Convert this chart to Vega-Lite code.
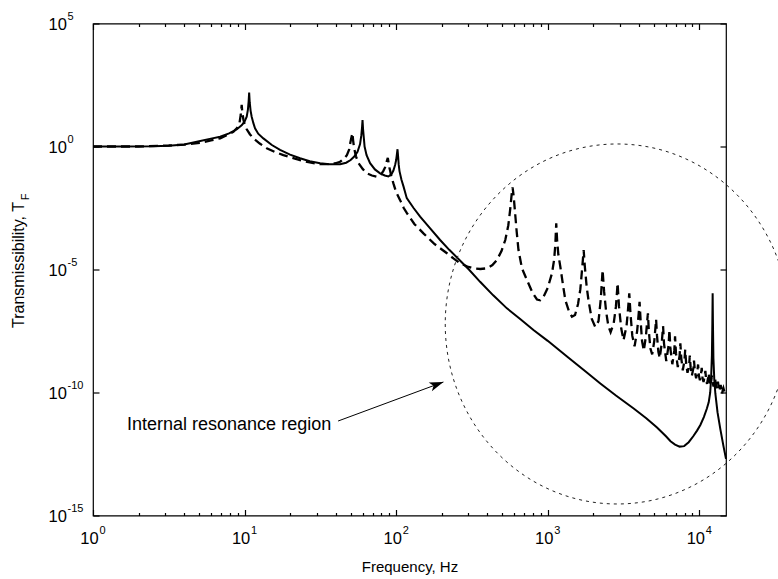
{
  "$schema": "https://vega.github.io/schema/vega-lite/v6.json",
  "width": 633,
  "height": 492,
  "autosize": {"type": "none"},
  "padding": {"left": 93, "top": 23.5, "right": 52, "bottom": 63.5},
  "background": "white",
  "config": {
    "view": {"stroke": "black", "strokeWidth": 1.2},
    "font": "Liberation Sans",
    "axis": {"domain": false, "grid": false, "labelColor": "black", "tickColor": "black", "tickWidth": 1.2, "titleColor": "black", "titleFontWeight": "normal", "labelFont": "Liberation Sans", "titleFont": "Liberation Sans", "labelFlush": false, "labelOverlap": false, "labelBound": false}
  },
  "datasets": {
    "solid": [
      {"f":1,"T":1},{"f":1.6,"T":1},{"f":2.5,"T":1.023},{"f":3.16,"T":1.072},{"f":4,"T":1.202},{"f":5.1,"T":1.66},{"f":6,"T":2.09},{"f":6.9,"T":2.51},{"f":7.9,"T":3.39},{"f":8.9,"T":5.01},{"f":9.6,"T":7.41},{"f":10,"T":10.5},{"f":10.33,"T":16.2},{"f":10.52,"T":31.6},{"f":10.64,"T":70.8},{"f":10.72,"T":155},{"f":10.81,"T":63.1},{"f":10.96,"T":28.2},{"f":11.14,"T":16.2},{"f":11.43,"T":8.91},{"f":11.72,"T":5.5},{"f":12.3,"T":3.31},{"f":13.3,"T":2.14},{"f":15.14,"T":1.148},{"f":17.14,"T":0.724},{"f":19.95,"T":0.468},{"f":23.23,"T":0.331},{"f":26.9,"T":0.251},{"f":31.5,"T":0.209},{"f":36.3,"T":0.191},{"f":42.7,"T":0.191},{"f":46.8,"T":0.219},{"f":50.1,"T":0.282},{"f":53.1,"T":0.398},{"f":55.6,"T":0.603},{"f":57.8,"T":1.259},{"f":58.9,"T":2.82},{"f":59.6,"T":6.31},{"f":60,"T":12},{"f":60.5,"T":5.01},{"f":61.2,"T":2.24},{"f":61.9,"T":1},{"f":63.8,"T":0.447},{"f":67.3,"T":0.209},{"f":72.4,"T":0.117},{"f":78.3,"T":0.0813},{"f":84.1,"T":0.0661},{"f":88.9,"T":0.0603},{"f":93.3,"T":0.0759},{"f":95.9,"T":0.105},{"f":98.4,"T":0.178},{"f":100,"T":0.282},{"f":101.2,"T":0.501},{"f":102.1,"T":0.776},{"f":103,"T":0.398},{"f":104,"T":0.178},{"f":105.2,"T":0.1},{"f":108.4,"T":0.0447},{"f":111.9,"T":0.0234},{"f":117.5,"T":0.00794},{"f":130.3,"T":0.00316},{"f":143.9,"T":0.00141},{"f":166,"T":5.01e-4},{"f":195,"T":1.58e-4},{"f":224,"T":6.31e-5},{"f":251,"T":3.16e-5},{"f":302,"T":1e-5},{"f":358,"T":3.16e-6},{"f":437,"T":8.91e-7},{"f":538,"T":2.63e-7},{"f":661,"T":9.55e-8},{"f":805,"T":3.47e-8},{"f":1000,"T":1.26e-8},{"f":1340,"T":2.88e-9},{"f":1778,"T":7.08e-10},{"f":2223,"T":2.34e-10},{"f":2818,"T":7.59e-11},{"f":3690,"T":2.24e-11},{"f":4467,"T":8.91e-12},{"f":5260,"T":3.8e-12},{"f":6026,"T":1.66e-12},{"f":6457,"T":1.05e-12},{"f":6918,"T":7.59e-13},{"f":7413,"T":6.31e-13},{"f":7943,"T":6.61e-13},{"f":8511,"T":9.55e-13},{"f":9120,"T":1.66e-12},{"f":9661,"T":2.82e-12},{"f":10162,"T":4.79e-12},{"f":10715,"T":1.0e-11},{"f":11220,"T":2.24e-11},{"f":11535,"T":3.98e-11},{"f":11803,"T":1e-10},{"f":11967,"T":3.98e-10},{"f":12106,"T":3.16e-9},{"f":12190,"T":6.31e-8},{"f":12246,"T":1.07e-6},{"f":12303,"T":6.31e-8},{"f":12388,"T":2.51e-9},{"f":12560,"T":3.16e-10},{"f":12764,"T":8.91e-11},{"f":13183,"T":1.58e-11},{"f":13772,"T":3.16e-12},{"f":14454,"T":6.31e-13},{"f":15000,"T":2.0e-13}
    ],
    "dashed": [
      {"f":1,"T":1},{"f":2,"T":1},{"f":3.16,"T":1.096},{"f":4,"T":1.202},{"f":5.1,"T":1.413},{"f":6,"T":1.778},{"f":6.9,"T":2.14},{"f":7.9,"T":3.16},{"f":8.43,"T":3.98},{"f":8.91,"T":5.62},{"f":9.25,"T":8.71},{"f":9.44,"T":20},{"f":9.57,"T":49},{"f":9.66,"T":25.1},{"f":9.82,"T":12.6},{"f":10,"T":8.32},{"f":10.33,"T":5.01},{"f":10.84,"T":3.16},{"f":11.43,"T":2.14},{"f":12.59,"T":1.318},{"f":14,"T":0.851},{"f":15.85,"T":0.603},{"f":18.03,"T":0.447},{"f":20.4,"T":0.355},{"f":23.23,"T":0.282},{"f":26.9,"T":0.224},{"f":31.5,"T":0.191},{"f":36.3,"T":0.191},{"f":39.8,"T":0.209},{"f":42.7,"T":0.24},{"f":45.7,"T":0.339},{"f":47.3,"T":0.447},{"f":49,"T":0.759},{"f":49.8,"T":1.349},{"f":50.7,"T":2.4},{"f":51.5,"T":3.47},{"f":52,"T":1.778},{"f":52.8,"T":0.851},{"f":54.3,"T":0.398},{"f":56.5,"T":0.209},{"f":60.3,"T":0.12},{"f":64.1,"T":0.0813},{"f":69.2,"T":0.0661},{"f":74.6,"T":0.0589},{"f":79.4,"T":0.0741},{"f":82.2,"T":0.1},{"f":84.5,"T":0.141},{"f":86.5,"T":0.24},{"f":88.1,"T":0.347},{"f":89.1,"T":0.224},{"f":90.2,"T":0.141},{"f":91.2,"T":0.105},{"f":93.3,"T":0.0562},{"f":95.9,"T":0.0316},{"f":100,"T":0.0141},{"f":106.2,"T":0.00661},{"f":112.2,"T":0.00316},{"f":117.5,"T":0.002},{"f":131.8,"T":7.08e-4},{"f":151.4,"T":2.95e-4},{"f":177.8,"T":1.12e-4},{"f":216.3,"T":4.57e-5},{"f":239.9,"T":2.75e-5},{"f":264.2,"T":1.78e-5},{"f":295.1,"T":1.32e-5},{"f":323.6,"T":1.12e-5},{"f":358.9,"T":1.047e-5},{"f":397.2,"T":1.12e-5},{"f":431.5,"T":1.51e-5},{"f":462.4,"T":2.45e-5},{"f":495.5,"T":5.62e-5},{"f":524.8,"T":1.58e-4},{"f":549.5,"T":6.31e-4},{"f":564.9,"T":2.63e-3},{"f":578.1,"T":0.0112},{"f":586.1,"T":0.0219},{"f":595.7,"T":0.01},{"f":609.5,"T":1.91e-3},{"f":623.7,"T":3.55e-4},{"f":641.2,"T":6.17e-5},{"f":676.1,"T":1.12e-5},{"f":729.5,"T":3.72e-6},{"f":794.3,"T":1.12e-6},{"f":849.2,"T":6.03e-7},{"f":891.3,"T":5.62e-7},{"f":937.6,"T":7.76e-7},{"f":1000,"T":1.78e-6},{"f":1067,"T":7.08e-6},{"f":1102,"T":2.51e-5},{"f":1122,"T":1e-4},{"f":1138,"T":7.59e-4},{"f":1153,"T":1.58e-4},{"f":1175,"T":3.98e-5},{"f":1211,"T":1.29e-5},{"f":1259,"T":2.51e-6},{"f":1306,"T":5.75e-7},{"f":1380,"T":2.0e-7},{"f":1445,"T":1.2e-7},{"f":1514,"T":1.41e-7},{"f":1585,"T":3.98e-7},{"f":1641,"T":1.58e-6},{"f":1690,"T":1.26e-5},{"f":1726,"T":6.17e-5},{"f":1758,"T":1.26e-5},{"f":1807,"T":2.0e-6},{"f":1862,"T":5.01e-7},{"f":1950,"T":1e-7},{"f":2056,"T":4.68e-8},{"f":2163,"T":7.94e-8},{"f":2239,"T":6.31e-7},{"f":2301,"T":9.55e-6},{"f":2355,"T":1.26e-6},{"f":2427,"T":2.0e-7},{"f":2512,"T":5.01e-8},{"f":2600,"T":2.82e-8},{"f":2723,"T":6.31e-8},{"f":2818,"T":3.16e-7},{"f":2891,"T":2.75e-6},{"f":2951,"T":3.16e-7},{"f":3055,"T":3.98e-8},{"f":3162,"T":1.35e-8},{"f":3311,"T":5.01e-8},{"f":3388,"T":2.51e-7},{"f":3451,"T":1.07e-6},{"f":3516,"T":1.58e-7},{"f":3614,"T":2.0e-8},{"f":3741,"T":7.59e-9},{"f":3890,"T":3.16e-8},{"f":3981,"T":1.58e-7},{"f":4036,"T":4.9e-7},{"f":4102,"T":7.94e-8},{"f":4188,"T":1.26e-8},{"f":4305,"T":5.01e-9},{"f":4446,"T":2.0e-8},{"f":4529,"T":7.94e-8},{"f":4581,"T":1.66e-7},{"f":4645,"T":3.16e-8},{"f":4753,"T":6.31e-9},{"f":4887,"T":3.55e-9},{"f":5047,"T":1.26e-8},{"f":5129,"T":3.98e-8},{"f":5188,"T":9.33e-8},{"f":5260,"T":2.0e-8},{"f":5370,"T":4.47e-9},{"f":5483,"T":2.51e-9},{"f":5649,"T":1e-8},{"f":5768,"T":5.01e-8},{"f":5848,"T":1e-8},{"f":6053,"T":1.91e-9},{"f":6266,"T":7.94e-9},{"f":6353,"T":3.55e-8},{"f":6442,"T":6.31e-9},{"f":6637,"T":1.41e-9},{"f":6839,"T":5.01e-9},{"f":6918,"T":1.91e-8},{"f":7015,"T":3.98e-9},{"f":7211,"T":1.07e-9},{"f":7413,"T":3.16e-9},{"f":7499,"T":1e-8},{"f":7603,"T":2.51e-9},{"f":7780,"T":7.94e-10},{"f":7980,"T":2.0e-9},{"f":8072,"T":5.5e-9},{"f":8185,"T":1.58e-9},{"f":8356,"T":6.31e-10},{"f":8570,"T":1.26e-9},{"f":8650,"T":3.16e-9},{"f":8770,"T":1e-9},{"f":8933,"T":4.79e-10},{"f":9141,"T":1e-9},{"f":9226,"T":2.0e-9},{"f":9354,"T":7.08e-10},{"f":9528,"T":3.8e-10},{"f":9727,"T":7.94e-10},{"f":9817,"T":1.38e-9},{"f":9931,"T":5.01e-10},{"f":10093,"T":3.16e-10},{"f":10280,"T":6.31e-10},{"f":10375,"T":1e-9},{"f":10495,"T":3.98e-10},{"f":10666,"T":2.69e-10},{"f":10864,"T":5.01e-10},{"f":10965,"T":7.59e-10},{"f":11092,"T":3.16e-10},{"f":11246,"T":2.24e-10},{"f":11429,"T":3.98e-10},{"f":11535,"T":6.03e-10},{"f":11668,"T":2.82e-10},{"f":11830,"T":1.91e-10},{"f":11995,"T":3.16e-10},{"f":12106,"T":4.9e-10},{"f":12246,"T":2.51e-10},{"f":12417,"T":1.74e-10},{"f":12589,"T":2.51e-10},{"f":12706,"T":3.72e-10},{"f":12853,"T":2.0e-10},{"f":13002,"T":1.41e-10},{"f":13152,"T":2.0e-10},{"f":13274,"T":2.75e-10},{"f":13428,"T":1.58e-10},{"f":13552,"T":1.12e-10},{"f":13709,"T":1.58e-10},{"f":13836,"T":2.04e-10},{"f":13996,"T":1.26e-10},{"f":14125,"T":8.91e-11},{"f":14289,"T":1.26e-10},{"f":14421,"T":1.51e-10},{"f":14689,"T":1e-10},{"f":15000,"T":1e-10}
    ]
  },
  "layer": [
    {
      "data": {"name": "solid"},
      "mark": {"type": "line", "color": "black", "strokeWidth": 2},
      "encoding": {
        "x": {"field": "f", "type": "quantitative", "scale": {"type": "log", "domain": [1, 15000], "nice": false},
          "axis": {"orient": "bottom", "values": [1, 10, 100, 1000, 10000], "labelExpr": "'10'", "ticks": true, "tickSize": 6, "offset": -6, "labelFontSize": 16.5, "labelOffset": -4, "labelBaseline": "middle", "labelPadding": 23,
            "title": "Frequency, Hz", "titleFontSize": 15, "titleY": 57, "titleBaseline": "middle"}},
        "y": {"field": "T", "type": "quantitative", "scale": {"type": "log", "domain": [1e-15, 1e5], "nice": false},
          "axis": {"orient": "left", "values": [1e-15, 1e-10, 1e-5, 1, 1e5], "labelExpr": "'10'", "ticks": true, "tickSize": 6, "offset": -6, "labelFontSize": 16.5, "labelAlign": "left", "labelBaseline": "middle", "labelPadding": 45, "labelOffset": 1,
            "title": "Transmissibility, T", "titleFontSize": 16, "titleX": -81, "titleY": 241, "titleAngle": 270, "titleAlign": "center", "titleBaseline": "middle"}}
      }
    },
    {
      "data": {"name": "dashed"},
      "mark": {"type": "line", "color": "black", "strokeWidth": 2.3, "strokeDash": [9, 5]},
      "encoding": {
        "x": {"field": "f", "type": "quantitative", "scale": {"type": "log", "domain": [1, 15000], "nice": false},
          "axis": {"orient": "bottom", "values": [1, 10, 100, 1000, 10000], "labelExpr": "'' + round(log(datum.value)/LN10)", "ticks": false, "labelFontSize": 11, "labelAlign": "left", "labelOffset": 6, "labelBaseline": "middle", "labelPadding": 14.5, "title": null}},
        "y": {"field": "T", "type": "quantitative", "scale": {"type": "log", "domain": [1e-15, 1e5], "nice": false},
          "axis": {"orient": "left", "values": [1e-15, 1e-10, 1e-5, 1, 1e5], "labelExpr": "'' + round(log(datum.value)/LN10)", "ticks": false, "labelFontSize": 11, "labelAlign": "left", "labelBaseline": "middle", "labelPadding": 26, "labelOffset": -7,
            "title": "F", "titleFontSize": 11, "titleX": -68, "titleY": 173, "titleAngle": 270, "titleAlign": "center", "titleBaseline": "middle"}}
      }
    },
    {
      "data": {"values": [{"f": 2875, "T": 6.1e-8}]},
      "mark": {"type": "point", "shape": "M -0.9556 0 A 0.9556 1 0 1 0 0.9556 0 A 0.9556 1 0 1 0 -0.9556 0 Z", "size": 129600, "filled": false, "stroke": "#222222", "strokeWidth": 1, "strokeDash": [3, 4], "opacity": 1},
      "encoding": {
        "x": {"field": "f", "type": "quantitative", "scale": {"type": "log", "domain": [1, 15000], "nice": false},
          "axis": {"orient": "bottom", "values": [2,3,4,5,6,7,8,9,20,30,40,50,60,70,80,90,200,300,400,500,600,700,800,900,2000,3000,4000,5000,6000,7000,8000,9000], "labels": true, "labelExpr": "''", "labelFontSize": 1, "ticks": true, "tickSize": 3, "offset": -3, "title": null}},
        "y": {"field": "T", "type": "quantitative", "scale": {"type": "log", "domain": [1e-15, 1e5], "nice": false},
          "axis": {"orient": "right", "values": [1e-15, 1e-10, 1e-5, 1, 1e5], "labels": true, "labelExpr": "''", "labelFontSize": 1, "ticks": true, "tickSize": 6, "offset": -6, "title": null}}
      }
    },
    {
      "data": {"values": [{"f": 41.4, "T": 6.93e-12, "f2": 205, "T2": 2.67e-10}]},
      "mark": {"type": "rule", "color": "black", "strokeWidth": 1},
      "encoding": {
        "x": {"field": "f", "type": "quantitative", "scale": {"type": "log", "domain": [1, 15000], "nice": false},
          "axis": {"orient": "top", "values": [2,3,4,5,6,7,8,9,20,30,40,50,60,70,80,90,200,300,400,500,600,700,800,900,2000,3000,4000,5000,6000,7000,8000,9000], "labels": true, "labelExpr": "''", "labelFontSize": 1, "ticks": true, "tickSize": 3, "offset": -3, "title": null}},
        "y": {"field": "T", "type": "quantitative", "scale": {"type": "log", "domain": [1e-15, 1e5], "nice": false}, "axis": null},
        "x2": {"field": "f2"},
        "y2": {"field": "T2"}
      }
    },
    {
      "data": {"values": [{"f": 205, "T": 2.67e-10}]},
      "mark": {"type": "point", "shape": "M 0 0 L -2 -0.65 L -1.5 0 L -2 0.65 Z", "size": 196, "angle": -20.3, "filled": true, "fill": "black", "stroke": null, "opacity": 1},
      "encoding": {
        "x": {"field": "f", "type": "quantitative", "scale": {"type": "log", "domain": [1, 15000], "nice": false},
          "axis": {"orient": "top", "values": [1, 10, 100, 1000, 10000], "labels": true, "labelExpr": "''", "labelFontSize": 1, "ticks": true, "tickSize": 6, "offset": -6, "title": null}},
        "y": {"field": "T", "type": "quantitative", "scale": {"type": "log", "domain": [1e-15, 1e5], "nice": false}, "axis": null}
      }
    },
    {
      "data": {"values": [{"f": 1.677, "T": 4.77e-12, "label": "Internal resonance region"}]},
      "mark": {"type": "text", "align": "left", "baseline": "middle", "fontSize": 18, "font": "Liberation Sans", "color": "black"},
      "encoding": {
        "x": {"field": "f", "type": "quantitative", "scale": {"type": "log", "domain": [1, 15000], "nice": false}, "axis": null},
        "y": {"field": "T", "type": "quantitative", "scale": {"type": "log", "domain": [1e-15, 1e5], "nice": false}, "axis": null},
        "text": {"field": "label", "type": "nominal"}
      }
    }
  ],
  "resolve": {"axis": {"x": "independent", "y": "independent"}}
}
